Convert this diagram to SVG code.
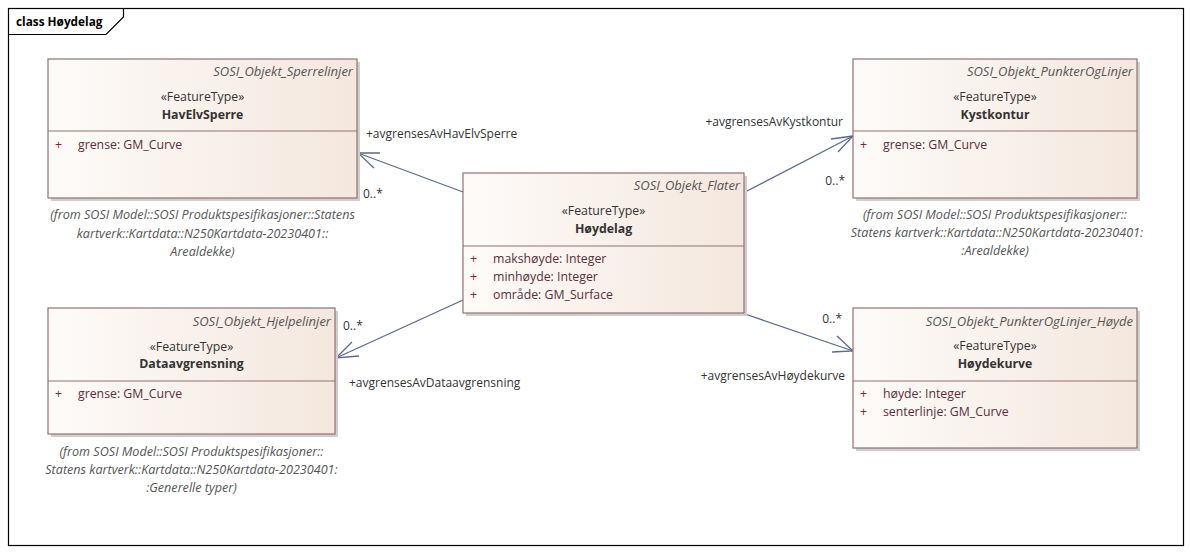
<svg xmlns="http://www.w3.org/2000/svg" width="1191" height="553" viewBox="0 0 1191 553">
<defs>
<linearGradient id="fill" x1="0" y1="0" x2="1" y2="0">
<stop offset="0" stop-color="#fdfbf9"/>
<stop offset="1" stop-color="#f4e7dd"/>
</linearGradient>
<style>
text{font-family:"Open Sans","Noto Sans","DejaVu Sans",sans-serif;font-size:12.3px;fill:#333}
.pkg{font-style:italic;fill:#555;text-anchor:end;font-size:13px}
.st{text-anchor:middle}
.nm{text-anchor:middle;font-weight:bold;font-size:12.3px}
.plus{fill:#7a2838}
.attr{fill:#5a2f3a}
.from{font-style:italic;fill:#555;text-anchor:middle;font-size:12.6px}
.box{fill:url(#fill);stroke:#8f7272;stroke-width:1.2}
.sh{fill:#cfcfcf}
.sep{stroke:#8f7272;stroke-width:1.2}
.conn{stroke:#5c6a8a;stroke-width:1.3;fill:none}
.lbl{fill:#333;font-size:12px}
</style>
</defs>
<rect x="0" y="0" width="1191" height="553" fill="#ffffff"/>
<g id="frame">
<rect x="8.5" y="8.5" width="1175" height="537" fill="none" stroke="#000" stroke-width="1.2"/>
<path d="M8.5,34.5 L106,34.5 L123.5,17 L123.5,8.5" fill="none" stroke="#000" stroke-width="1.2"/>
<text x="16" y="26" style="font-weight:bold;font-size:11.8px;fill:#000">class Høydelag</text>
</g>

<g id="connectors">
<line class="conn" x1="463" y1="192" x2="358" y2="153"/>
<polyline class="conn" points="380,153 358,153 374,168"/>
<line class="conn" x1="745" y1="192" x2="853" y2="136"/>
<polyline class="conn" points="831,139 853,136 838,152"/>
<line class="conn" x1="463" y1="300" x2="336" y2="358"/>
<polyline class="conn" points="352,342 336,358 359,356"/>
<line class="conn" x1="745" y1="314" x2="853" y2="351"/>
<polyline class="conn" points="837,336 853,351 832,352"/>
<text class="lbl" x="366" y="138">+avgrensesAvHavElvSperre</text>
<text class="lbl" x="363" y="198">0..*</text>
<text class="lbl" x="843" y="126" text-anchor="end">+avgrensesAvKystkontur</text>
<text class="lbl" x="845" y="185" text-anchor="end">0..*</text>
<text class="lbl" x="343" y="330">0..*</text>
<text class="lbl" x="349" y="387">+avgrensesAvDataavgrensning</text>
<text class="lbl" x="842" y="323" text-anchor="end">0..*</text>
<text class="lbl" x="845" y="380" text-anchor="end">+avgrensesAvHøydekurve</text>
</g>

<g id="HavElvSperre">
<rect class="sh" x="51" y="62" width="309" height="139"/>
<rect class="box" x="48" y="59" width="309" height="139"/>
<line class="sep" x1="48" y1="131" x2="357" y2="131"/>
<text class="pkg" x="353" y="76">SOSI_Objekt_Sperrelinjer</text>
<text class="st" x="202.5" y="101">«FeatureType»</text>
<text class="nm" x="202.5" y="119">HavElvSperre</text>
<text class="plus" x="55" y="149">+</text>
<text class="attr" x="78" y="149">grense: GM_Curve</text>
<text class="from" x="202.5" y="219">(from SOSI Model::SOSI Produktspesifikasjoner::Statens</text>
<text class="from" x="202.5" y="238">kartverk::Kartdata::N250Kartdata-20230401::</text>
<text class="from" x="202.5" y="256">Arealdekke)</text>
</g>

<g id="Kystkontur">
<rect class="sh" x="856" y="62" width="284" height="139"/>
<rect class="box" x="853" y="59" width="284" height="139"/>
<line class="sep" x1="853" y1="131" x2="1137" y2="131"/>
<text class="pkg" x="1133" y="76">SOSI_Objekt_PunkterOgLinjer</text>
<text class="st" x="995" y="101">«FeatureType»</text>
<text class="nm" x="995" y="119">Kystkontur</text>
<text class="plus" x="860" y="149">+</text>
<text class="attr" x="883" y="149">grense: GM_Curve</text>
<text class="from" x="995" y="219">(from SOSI Model::SOSI Produktspesifikasjoner::</text>
<text class="from" x="997" y="237">Statens kartverk::Kartdata::N250Kartdata-20230401:</text>
<text class="from" x="995" y="255">:Arealdekke)</text>
</g>

<g id="Hoydelag">
<rect class="sh" x="466" y="176" width="281" height="140"/>
<rect class="box" x="463" y="173" width="281" height="140"/>
<line class="sep" x1="463" y1="246" x2="744" y2="246"/>
<text class="pkg" x="740" y="190">SOSI_Objekt_Flater</text>
<text class="st" x="603.5" y="215">«FeatureType»</text>
<text class="nm" x="603.5" y="233">Høydelag</text>
<text class="plus" x="470" y="263">+</text>
<text class="attr" x="493" y="263">makshøyde: Integer</text>
<text class="plus" x="470" y="281">+</text>
<text class="attr" x="493" y="281">minhøyde: Integer</text>
<text class="plus" x="470" y="299">+</text>
<text class="attr" x="493" y="299">område: GM_Surface</text>
</g>

<g id="Dataavgrensning">
<rect class="sh" x="51" y="311" width="287" height="126"/>
<rect class="box" x="48" y="308" width="287" height="126"/>
<line class="sep" x1="48" y1="381" x2="335" y2="381"/>
<text class="pkg" x="331" y="326">SOSI_Objekt_Hjelpelinjer</text>
<text class="st" x="191.5" y="351">«FeatureType»</text>
<text class="nm" x="191.5" y="368">Dataavgrensning</text>
<text class="plus" x="55" y="398">+</text>
<text class="attr" x="78" y="398">grense: GM_Curve</text>
<text class="from" x="191.5" y="456">(from SOSI Model::SOSI Produktspesifikasjoner::</text>
<text class="from" x="191.5" y="474">Statens kartverk::Kartdata::N250Kartdata-20230401:</text>
<text class="from" x="191.5" y="492">:Generelle typer)</text>
</g>

<g id="Hoydekurve">
<rect class="sh" x="856" y="311" width="284" height="140"/>
<rect class="box" x="853" y="308" width="284" height="140"/>
<line class="sep" x1="853" y1="381" x2="1137" y2="381"/>
<text class="pkg" x="1133" y="326">SOSI_Objekt_PunkterOgLinjer_Høyde</text>
<text class="st" x="995" y="350">«FeatureType»</text>
<text class="nm" x="995" y="368">Høydekurve</text>
<text class="plus" x="860" y="398">+</text>
<text class="attr" x="883" y="398">høyde: Integer</text>
<text class="plus" x="860" y="416">+</text>
<text class="attr" x="883" y="416">senterlinje: GM_Curve</text>
</g>
</svg>
